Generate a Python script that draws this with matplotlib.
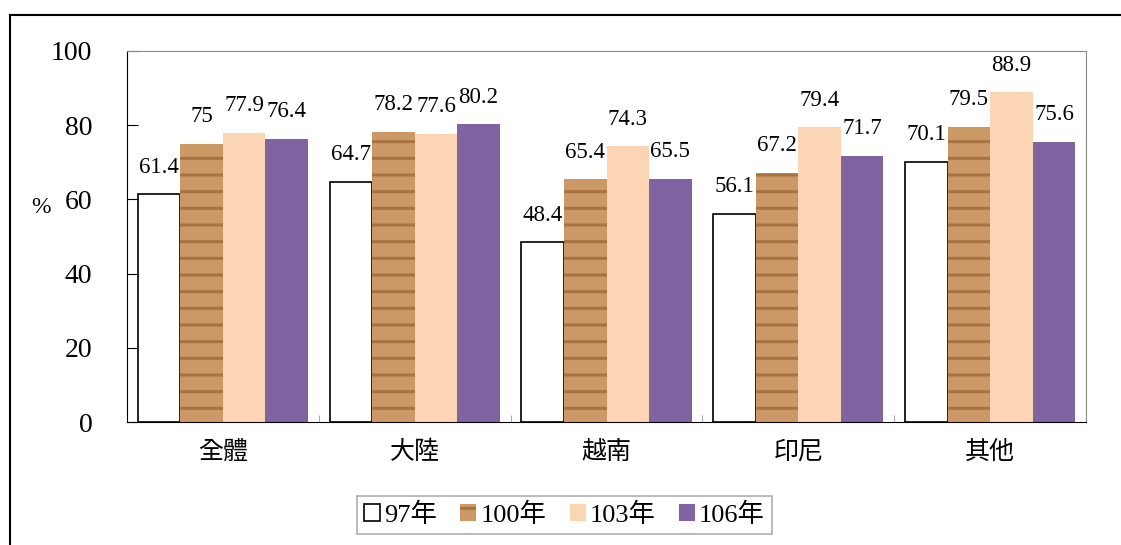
import matplotlib
matplotlib.use("Agg")
import matplotlib.pyplot as plt
import numpy as np
from matplotlib.lines import Line2D

categories = ["全體", "大陸", "越南", "印尼", "其他"]
series_names = ["97年", "100年", "103年", "106年"]
v97 = [61.4, 64.7, 48.4, 56.1, 70.1]
v100 = [75, 78.2, 65.4, 67.2, 79.5]
v103 = [77.9, 77.6, 74.3, 79.4, 88.9]
v106 = [76.4, 80.2, 65.5, 71.7, 75.6]
yticks = [0, 20, 40, 60, 80, 100]

plt.rcParams['hatch.linewidth'] = 2.2
serif = ['Liberation Serif', 'Noto Sans CJK TC']
cjk = ['Noto Sans CJK TC', 'DejaVu Sans']

fig = plt.figure(figsize=(11.21, 5.45), dpi=100)
ax = fig.add_axes([127/1121, 1-422/545, (1086-127)/1121, (422-51)/545])

x = np.arange(len(categories))
w = 0.222
series = [v97, v100, v103, v106]
styles = [
    dict(facecolor='white', edgecolor='black', linewidth=1.2),
    dict(facecolor='#CC9866', edgecolor='#A8733F', linewidth=0, hatch='-'),
    dict(facecolor='#FCD5B4', edgecolor='#FCD5B4', linewidth=0),
    dict(facecolor='#8064A2', edgecolor='#8064A2', linewidth=0),
]
handles = []
for i, (vals, st) in enumerate(zip(series, styles)):
    pos = x + (i - 1.5) * w
    bars = ax.bar(pos, vals, width=w, label=series_names[i], **st)
    handles.append(bars)
    for p, v in zip(pos, vals):
        ax.annotate(f"{v:g}", (p, v), xytext=(0, 12), textcoords='offset points',
                    ha='center', va='bottom', fontsize=16.5, family=serif)

ax.set_xlim(-0.5, len(categories) - 0.5)
ax.set_ylim(0, 100)
ax.set_yticks(yticks)
ax.tick_params(axis='y', direction='in', length=8, pad=25, labelsize=20)
for lab in ax.get_yticklabels():
    lab.set_family(serif)
ax.set_xticks(x)
ax.set_xticklabels(categories, family=cjk, fontsize=18)
ax.tick_params(axis='x', length=0, pad=12)
ax.set_xticks(np.arange(len(categories) + 1) - 0.5, minor=True)
ax.tick_params(axis='x', which='minor', direction='in', length=5, color='#999999')

for s in ['top', 'right']:
    ax.spines[s].set_color('#888888')
for s in ['left', 'bottom']:
    ax.spines[s].set_color('black')

fig.text(41/1121, 1-207/545, '%', fontsize=17, family=serif, ha='center', va='center')

leg = fig.legend(handles=handles, labels=series_names, loc='center',
                 bbox_to_anchor=(564.5/1121, 1-515/545), ncol=4,
                 prop={'family': serif, 'size': 19}, frameon=True, fancybox=False,
                 edgecolor='#999999', handlelength=0.6, handleheight=0.6,
                 handletextpad=0.15, columnspacing=0.9, borderpad=0.25)
leg.get_frame().set_linewidth(1.2)

fig.add_artist(Line2D([10/1121, 1.0], [1-15/545, 1-15/545], transform=fig.transFigure,
                      color='black', linewidth=1.5))
fig.add_artist(Line2D([10/1121, 10/1121], [1-15/545, 0], transform=fig.transFigure,
                      color='black', linewidth=1.5))

fig.savefig('out.png', dpi=100)
